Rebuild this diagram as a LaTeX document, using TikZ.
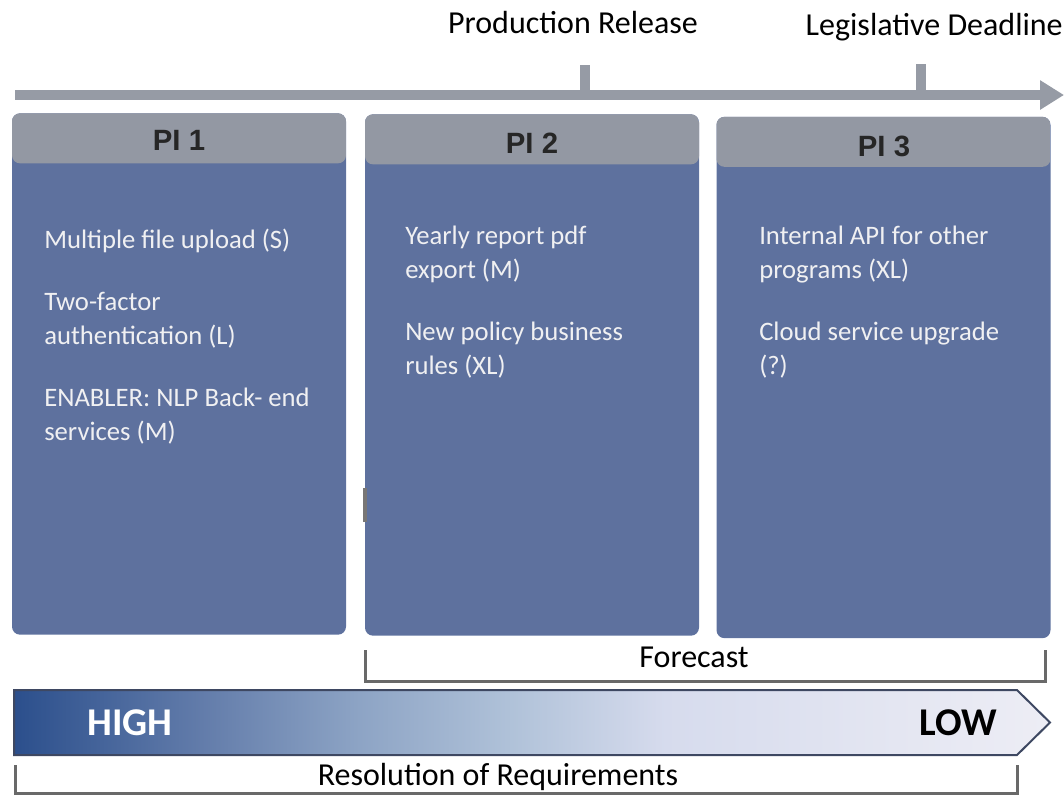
\documentclass[tikz,border=0pt]{standalone}
\usepackage{fontspec}
\setmainfont{Carlito}
\newfontfamily\headfont{Liberation Sans}
\usetikzlibrary{arrows.meta}

\definecolor{lineGray}{RGB}{150,155,165}
\definecolor{headGray}{RGB}{147,152,163}
\definecolor{piBlue}{RGB}{94,113,158}
\definecolor{brGray}{RGB}{105,105,105}
\definecolor{tickGray}{RGB}{120,118,118}
\definecolor{itemWhite}{RGB}{240,240,242}
\definecolor{arrowEdge}{RGB}{62,72,98}

% dark blue on the left fading to near white on the right
\pgfdeclarehorizontalshading{resolution}{100bp}{%
  rgb(0bp)=(0.17,0.31,0.55); rgb(25bp)=(0.17,0.31,0.55);
  rgb(34.25bp)=(0.39,0.49,0.67); rgb(41.5bp)=(0.55,0.64,0.77);
  rgb(49bp)=(0.69,0.76,0.85); rgb(56.5bp)=(0.84,0.86,0.93);
  rgb(75bp)=(0.93,0.93,0.96); rgb(100bp)=(0.93,0.93,0.96)}

\tikzset{
  timeline/.style={draw=lineGray, line width=7.5pt, -{Triangle[length=18pt,width=21pt]}},
  marker/.style={fill=lineGray, inner sep=0, minimum width=7.5pt, minimum height=23pt},
  toplabel/.style={font=\fontsize{24}{28}\selectfont},
  pibox/.style={rectangle, rounded corners=6pt, fill=piBlue, inner sep=0,
    minimum width=250.5pt, minimum height=391pt,
    path picture={\fill[headGray] (path picture bounding box.north west)
      rectangle ([yshift=-37.5pt]path picture bounding box.north east);}},
  pihead/.style={font=\headfont\bfseries\fontsize{22}{24}\selectfont, text=black!85},
  piitem/.style={anchor=north west, align=left, inner sep=0, text=itemWhite,
    font=\fontsize{20}{25.5}\selectfont},
  bracket/.style={draw=brGray, line width=2.25pt},
  level/.style={font=\bfseries\fontsize{29.5}{32}\selectfont}
}

\begin{document}
\begin{tikzpicture}[x=0.75pt, y=-0.75pt]

  \useasboundingbox (0,0) rectangle (1064,794);

  % timeline with milestones
  \coordinate	(tl0)	at (15,95);
  \coordinate	(tl1)	at (1064,95);
  \draw[timeline] (tl0) -- (tl1);

  \node[marker]		(m1)	at (585,80)	{};
  \node[marker]		(m2)	at (921,79)	{};
  \node[toplabel]	(rel)	at (573,23)	{Production Release};
  \node[toplabel, anchor=west]	(dead)	at (801,27)	{Legislative Deadline};

  % program increments
  \node[pibox]	(pi1)	at (179,374)	{};
  \node[pibox]	(pi2)	at (532,375)	{};
  \node[pibox]	(pi3)	at (883.5,377.5)	{};

  \node[pihead]	(h1)	at (179,140)	{PI 1};
  \node[pihead]	(h2)	at (532,143)	{PI 2};
  \node[pihead]	(h3)	at (884,146)	{PI 3};

  \fill[tickGray] (363,488) rectangle (367,522);

  \node[piitem]	(a1)	at (44,229)	{Multiple file upload (S)};
  \node[piitem]	(a2)	at (44,292)	{Two-factor\\authentication (L)};
  \node[piitem]	(a3)	at (44,388)	{ENABLER: NLP Back- end\\services (M)};

  \node[piitem]	(b1)	at (405,226)	{Yearly report pdf\\export (M)};
  \node[piitem]	(b2)	at (405,322)	{New policy business\\rules (XL)};

  \node[piitem]	(c1)	at (759,226)	{Internal API for other\\programs (XL)};
  \node[piitem]	(c2)	at (759,322)	{Cloud service upgrade\\(?)};

  % forecast bracket
  \draw[bracket] (365,650) |- (1045,681) -- (1045,650);
  \node[toplabel]	(fc)	at (694,657)	{Forecast};

  % resolution arrow
  \shadedraw[shading=resolution, draw=arrowEdge, line width=1.5pt]
    (14,690) -- (1017,690) -- (1050,722.5) -- (1017,755) -- (14,755) -- cycle;
  \node[level, text=white]	(high)	at (130,723)	{HIGH};
  \node[level, text=black]	(low)	at (958,723)	{LOW};

  \draw[bracket] (15,765) |- (1017,793) -- (1017,765);
  \node[toplabel]	(res)	at (498,777)	{Resolution of Requirements};

\end{tikzpicture}
\end{document}
